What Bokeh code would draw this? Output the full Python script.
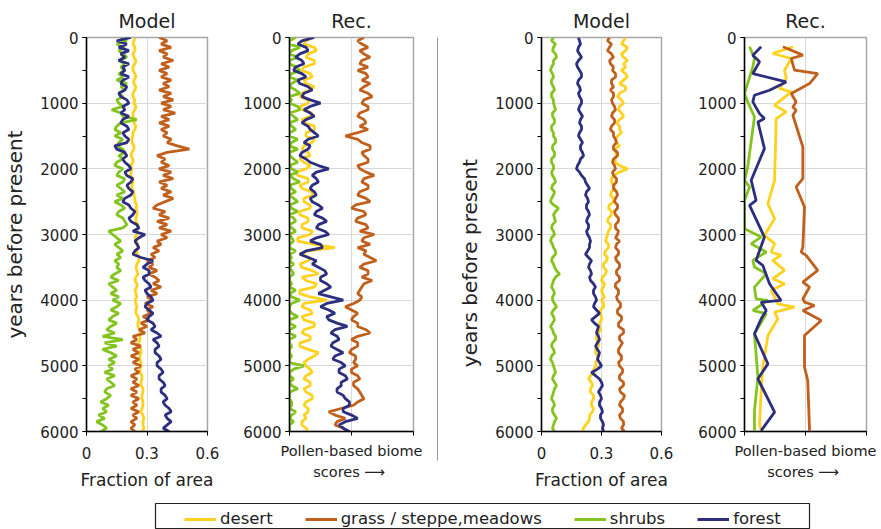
from bokeh.plotting import figure
from bokeh.models import (Range1d, FixedTicker, SingleIntervalTicker, LinearAxis,
                          Legend, LegendItem)
from bokeh.layouts import row, column
from bokeh.embed import file_html
from bokeh.resources import INLINE

FONT = "DejaVu Sans"

# ---------------- data ----------------
years50 = list(range(0, 6001, 50))   # 121 samples, 0 ... 6000 years BP

# Left pair, Model (fraction of area)
model1_desert = [0.24, 0.235, 0.23, 0.24, 0.24, 0.23, 0.235, 0.245, 0.24, 0.23,
                 0.23, 0.24, 0.245, 0.235, 0.235, 0.245, 0.24, 0.23, 0.23, 0.24,
                 0.235, 0.245, 0.24, 0.23, 0.23, 0.24, 0.235, 0.245, 0.24, 0.23,
                 0.23, 0.225, 0.225, 0.235, 0.235, 0.225, 0.22, 0.23, 0.23, 0.22,
                 0.225, 0.22, 0.22, 0.23, 0.23, 0.225, 0.225, 0.235, 0.235, 0.24,
                 0.24, 0.25, 0.245, 0.25, 0.25, 0.245, 0.245, 0.255, 0.255, 0.25,
                 0.25, 0.24, 0.245, 0.255, 0.255, 0.25, 0.25, 0.26, 0.26, 0.25,
                 0.245, 0.25, 0.255, 0.245, 0.24, 0.25, 0.25, 0.24, 0.245, 0.25,
                 0.24, 0.245, 0.25, 0.245, 0.245, 0.255, 0.26, 0.255, 0.255, 0.265,
                 0.27, 0.265, 0.265, 0.26, 0.26, 0.27, 0.27, 0.265, 0.265, 0.27,
                 0.27, 0.265, 0.265, 0.275, 0.275, 0.27, 0.27, 0.28, 0.28, 0.275,
                 0.275, 0.28, 0.28, 0.275, 0.27, 0.28, 0.285, 0.28, 0.28, 0.285,
                 0.275]
model1_grass = [0.36, 0.40, 0.37, 0.42, 0.36, 0.40, 0.38, 0.43, 0.37, 0.41,
                0.36, 0.40, 0.37, 0.42, 0.38, 0.41, 0.36, 0.42, 0.38, 0.43,
                0.37, 0.42, 0.38, 0.44, 0.37, 0.41, 0.36, 0.41, 0.37, 0.40,
                0.38, 0.42, 0.40, 0.45, 0.51, 0.40, 0.35, 0.39, 0.37, 0.41,
                0.36, 0.42, 0.38, 0.43, 0.36, 0.40, 0.37, 0.42, 0.38, 0.43,
                0.39, 0.35, 0.33, 0.39, 0.36, 0.41, 0.35, 0.40, 0.36, 0.42,
                0.37, 0.40, 0.35, 0.37, 0.33, 0.36, 0.32, 0.34, 0.30, 0.33,
                0.31, 0.35, 0.31, 0.34, 0.36, 0.33, 0.37, 0.32, 0.35, 0.30,
                0.33, 0.29, 0.33, 0.30, 0.32, 0.28, 0.31, 0.27, 0.30, 0.26,
                0.29, 0.23, 0.25, 0.22, 0.27, 0.23, 0.26, 0.22, 0.26, 0.23,
                0.27, 0.24, 0.26, 0.22, 0.25, 0.23, 0.26, 0.22, 0.25, 0.22,
                0.26, 0.23, 0.25, 0.22, 0.26, 0.23, 0.25, 0.22, 0.24, 0.22,
                0.24]
model1_shrubs = [0.17, 0.20, 0.15, 0.19, 0.16, 0.18, 0.20, 0.16, 0.19, 0.17,
                 0.19, 0.16, 0.18, 0.15, 0.20, 0.17, 0.19, 0.16, 0.18, 0.15,
                 0.16, 0.18, 0.125, 0.17, 0.18, 0.25, 0.17, 0.15, 0.14, 0.17,
                 0.14, 0.18, 0.16, 0.15, 0.18, 0.19, 0.16, 0.18, 0.15, 0.14,
                 0.18, 0.16, 0.15, 0.19, 0.18, 0.15, 0.17, 0.19, 0.15, 0.18,
                 0.14, 0.17, 0.19, 0.16, 0.15, 0.18, 0.19, 0.20, 0.18, 0.11,
                 0.13, 0.15, 0.17, 0.14, 0.16, 0.18, 0.15, 0.17, 0.14, 0.16,
                 0.15, 0.17, 0.14, 0.12, 0.16, 0.11, 0.13, 0.15, 0.12, 0.16,
                 0.13, 0.17, 0.15, 0.12, 0.16, 0.13, 0.11, 0.15, 0.12, 0.10,
                 0.14, 0.08, 0.18, 0.09, 0.15, 0.08, 0.12, 0.15, 0.11, 0.14,
                 0.11, 0.13, 0.09, 0.14, 0.10, 0.12, 0.14, 0.10, 0.09, 0.12,
                 0.10, 0.07, 0.11, 0.08, 0.10, 0.06, 0.09, 0.05, 0.08, 0.10,
                 0.07]
model1_forest = [0.22, 0.15, 0.20, 0.16, 0.21, 0.17, 0.19, 0.16, 0.21, 0.18,
                 0.19, 0.17, 0.21, 0.18, 0.17, 0.20, 0.19, 0.16, 0.17, 0.20,
                 0.21, 0.18, 0.19, 0.17, 0.21, 0.18, 0.17, 0.20, 0.21, 0.18,
                 0.19, 0.21, 0.20, 0.14, 0.15, 0.19, 0.20, 0.18, 0.19, 0.21,
                 0.22, 0.19, 0.20, 0.23, 0.22, 0.20, 0.21, 0.23, 0.22, 0.19,
                 0.18, 0.21, 0.22, 0.24, 0.23, 0.21, 0.22, 0.25, 0.26, 0.23,
                 0.29, 0.26, 0.24, 0.25, 0.26, 0.24, 0.23, 0.27, 0.33, 0.30,
                 0.28, 0.31, 0.31, 0.28, 0.29, 0.31, 0.32, 0.29, 0.30, 0.32,
                 0.33, 0.30, 0.29, 0.31, 0.33, 0.31, 0.30, 0.33, 0.34, 0.32,
                 0.35, 0.37, 0.33, 0.35, 0.36, 0.34, 0.34, 0.36, 0.37, 0.35,
                 0.35, 0.37, 0.38, 0.36, 0.36, 0.38, 0.39, 0.37, 0.37, 0.39,
                 0.40, 0.38, 0.39, 0.41, 0.42, 0.39, 0.40, 0.42, 0.40, 0.38,
                 0.41]

# Left pair, Rec. (pollen-based biome scores)
rec1_desert = [0.11, 0.08, 0.07, 0.12, 0.13, 0.09, 0.08, 0.12, 0.12, 0.07,
               0.06, 0.10, 0.11, 0.07, 0.08, 0.12, 0.10, 0.06, 0.05, 0.09,
               0.09, 0.05, 0.06, 0.11, 0.10, 0.06, 0.07, 0.12, 0.12, 0.08,
               0.08, 0.12, 0.11, 0.07, 0.06, 0.09, 0.10, 0.05, 0.07, 0.10,
               0.08, 0.03, 0.04, 0.09, 0.09, 0.05, 0.06, 0.11, 0.11, 0.07,
               0.07, 0.10, 0.10, 0.05, 0.05, 0.09, 0.09, 0.06, 0.06, 0.11,
               0.10, 0.04, 0.04, 0.12, 0.22, 0.09, 0.05, 0.10, 0.09, 0.05,
               0.06, 0.11, 0.14, 0.06, 0.08, 0.13, 0.12, 0.05, 0.05, 0.10,
               0.18, 0.07, 0.06, 0.10, 0.11, 0.06, 0.07, 0.12, 0.12, 0.07,
               0.06, 0.10, 0.10, 0.05, 0.05, 0.09, 0.14, 0.12, 0.09, 0.07,
               0.08, 0.10, 0.11, 0.08, 0.07, 0.10, 0.10, 0.07, 0.08, 0.11,
               0.11, 0.08, 0.07, 0.09, 0.09, 0.07, 0.08, 0.06, 0.06, 0.08,
               0.09]
rec1_grass = [0.36, 0.33, 0.35, 0.38, 0.34, 0.36, 0.39, 0.35, 0.34, 0.38,
              0.33, 0.37, 0.38, 0.35, 0.39, 0.36, 0.34, 0.38, 0.40, 0.36,
              0.35, 0.38, 0.38, 0.34, 0.33, 0.36, 0.37, 0.34, 0.38, 0.33,
              0.27, 0.33, 0.35, 0.39, 0.39, 0.35, 0.36, 0.38, 0.38, 0.33,
              0.34, 0.37, 0.41, 0.36, 0.35, 0.38, 0.38, 0.34, 0.33, 0.37,
              0.39, 0.32, 0.30, 0.36, 0.37, 0.33, 0.32, 0.37, 0.38, 0.34,
              0.41, 0.36, 0.35, 0.39, 0.33, 0.37, 0.36, 0.39, 0.42, 0.36,
              0.34, 0.38, 0.38, 0.35, 0.40, 0.36, 0.35, 0.34, 0.33, 0.35,
              0.34, 0.31, 0.27, 0.30, 0.33, 0.31, 0.30, 0.33, 0.33, 0.37,
              0.39, 0.33, 0.30, 0.33, 0.33, 0.30, 0.29, 0.32, 0.32, 0.31,
              0.33, 0.30, 0.30, 0.33, 0.34, 0.31, 0.31, 0.33, 0.34, 0.35,
              0.36, 0.33, 0.31, 0.25, 0.19, 0.22, 0.27, 0.23, 0.22, 0.26,
              0.28]
rec1_shrubs = [0.03, 0.00, 0.00, 0.05, 0.01, 0.00, 0.04, 0.00, 0.00, 0.03,
               0.05, 0.01, 0.00, 0.04, 0.01, 0.00, 0.03, 0.05, 0.00, 0.01,
               0.00, 0.04, 0.05, 0.00, 0.02, 0.04, 0.00, 0.01, 0.03, 0.00,
               0.00, 0.04, 0.01, 0.00, 0.04, 0.00, 0.00, 0.02, 0.04, 0.00,
               0.01, 0.04, 0.00, 0.02, 0.05, 0.00, 0.01, 0.03, 0.00, 0.02,
               0.04, 0.00, 0.01, 0.04, 0.00, 0.02, 0.03, 0.00, 0.01, 0.03,
               0.00, 0.01, 0.02, 0.00, 0.00, 0.03, 0.00, 0.01, 0.00, 0.02,
               0.00, 0.01, 0.02, 0.00, 0.00, 0.01, 0.00, 0.03, 0.00, 0.01,
               0.05, 0.01, 0.00, 0.00, 0.01, 0.04, 0.00, 0.00, 0.03, 0.00,
               0.00, 0.03, 0.00, 0.00, 0.01, 0.00, 0.00, 0.01, 0.00, 0.00,
               0.07, 0.02, 0.00, 0.00, 0.02, 0.00, 0.01, 0.04, 0.00, 0.00,
               0.00, 0.01, 0.01, 0.00, 0.03, 0.01, 0.00, 0.02, 0.00, 0.00,
               0.00]
rec1_forest = [0.12, 0.06, 0.04, 0.08, 0.09, 0.05, 0.03, 0.06, 0.07, 0.03,
               0.02, 0.06, 0.08, 0.04, 0.05, 0.09, 0.11, 0.07, 0.06, 0.10,
               0.15, 0.10, 0.07, 0.10, 0.12, 0.08, 0.06, 0.09, 0.10, 0.12,
               0.14, 0.09, 0.07, 0.10, 0.09, 0.06, 0.05, 0.08, 0.10, 0.14,
               0.19, 0.13, 0.11, 0.13, 0.14, 0.11, 0.10, 0.12, 0.13, 0.10,
               0.11, 0.14, 0.16, 0.13, 0.12, 0.16, 0.18, 0.14, 0.13, 0.17,
               0.19, 0.13, 0.10, 0.15, 0.16, 0.08, 0.05, 0.09, 0.13, 0.11,
               0.14, 0.17, 0.18, 0.15, 0.15, 0.18, 0.20, 0.17, 0.14, 0.20,
               0.26, 0.18, 0.15, 0.19, 0.22, 0.18, 0.19, 0.23, 0.28, 0.22,
               0.20, 0.23, 0.24, 0.21, 0.20, 0.23, 0.26, 0.22, 0.21, 0.25,
               0.27, 0.24, 0.24, 0.27, 0.28, 0.25, 0.25, 0.23, 0.23, 0.26,
               0.27, 0.29, 0.29, 0.26, 0.26, 0.30, 0.33, 0.27, 0.24, 0.26,
               0.29]

# Right pair, Model (fraction of area)
model2_desert = [0.42, 0.41, 0.40, 0.43, 0.42, 0.40, 0.41, 0.43, 0.41, 0.42,
                 0.40, 0.42, 0.43, 0.41, 0.39, 0.42, 0.42, 0.39, 0.38, 0.40,
                 0.41, 0.39, 0.385, 0.40, 0.41, 0.39, 0.375, 0.39, 0.39, 0.40,
                 0.38, 0.37, 0.375, 0.39, 0.365, 0.37, 0.38, 0.365, 0.37, 0.39,
                 0.43, 0.39, 0.36, 0.35, 0.35, 0.36, 0.365, 0.35, 0.345, 0.36,
                 0.36, 0.34, 0.335, 0.35, 0.35, 0.335, 0.33, 0.345, 0.345, 0.335,
                 0.33, 0.325, 0.32, 0.335, 0.335, 0.32, 0.315, 0.33, 0.325, 0.31,
                 0.31, 0.325, 0.32, 0.305, 0.30, 0.315, 0.31, 0.30, 0.305, 0.315,
                 0.30, 0.31, 0.31, 0.295, 0.295, 0.30, 0.30, 0.29, 0.29, 0.295,
                 0.285, 0.275, 0.275, 0.285, 0.285, 0.27, 0.27, 0.28, 0.28, 0.27,
                 0.275, 0.26, 0.265, 0.245, 0.235, 0.25, 0.255, 0.245, 0.245, 0.26,
                 0.26, 0.25, 0.25, 0.26, 0.255, 0.24, 0.24, 0.235, 0.22, 0.21,
                 0.205]
model2_grass = [0.34, 0.33, 0.35, 0.34, 0.33, 0.35, 0.36, 0.34, 0.345, 0.36,
                0.355, 0.37, 0.37, 0.35, 0.35, 0.36, 0.345, 0.36, 0.36, 0.35,
                0.355, 0.365, 0.37, 0.355, 0.35, 0.365, 0.365, 0.35, 0.345, 0.36,
                0.36, 0.37, 0.375, 0.36, 0.36, 0.38, 0.38, 0.36, 0.355, 0.365,
                0.37, 0.355, 0.36, 0.375, 0.375, 0.36, 0.36, 0.375, 0.38, 0.37,
                0.365, 0.38, 0.38, 0.365, 0.37, 0.385, 0.385, 0.37, 0.37, 0.385,
                0.38, 0.37, 0.39, 0.375, 0.37, 0.385, 0.385, 0.37, 0.375, 0.39,
                0.39, 0.375, 0.375, 0.39, 0.39, 0.37, 0.37, 0.385, 0.385, 0.375,
                0.38, 0.395, 0.395, 0.38, 0.38, 0.40, 0.40, 0.385, 0.385, 0.41,
                0.41, 0.39, 0.39, 0.405, 0.395, 0.385, 0.385, 0.40, 0.40, 0.385,
                0.39, 0.405, 0.405, 0.39, 0.39, 0.41, 0.41, 0.39, 0.395, 0.415,
                0.41, 0.395, 0.39, 0.405, 0.405, 0.39, 0.395, 0.41, 0.41, 0.40,
                0.415]
model2_shrubs = [0.06, 0.05, 0.07, 0.06, 0.055, 0.07, 0.075, 0.06, 0.06, 0.05,
                 0.045, 0.055, 0.06, 0.05, 0.05, 0.06, 0.065, 0.05, 0.05, 0.06,
                 0.06, 0.065, 0.07, 0.055, 0.055, 0.065, 0.065, 0.05, 0.05, 0.06,
                 0.06, 0.07, 0.07, 0.055, 0.055, 0.065, 0.065, 0.05, 0.05, 0.06,
                 0.06, 0.05, 0.055, 0.065, 0.07, 0.055, 0.05, 0.065, 0.06, 0.05,
                 0.045, 0.06, 0.085, 0.07, 0.06, 0.065, 0.07, 0.055, 0.05, 0.06,
                 0.065, 0.05, 0.045, 0.055, 0.06, 0.07, 0.07, 0.055, 0.05, 0.06,
                 0.065, 0.075, 0.09, 0.07, 0.06, 0.055, 0.05, 0.06, 0.065, 0.055,
                 0.055, 0.065, 0.075, 0.06, 0.05, 0.06, 0.065, 0.055, 0.045, 0.055,
                 0.06, 0.07, 0.07, 0.055, 0.05, 0.06, 0.065, 0.05, 0.045, 0.055,
                 0.06, 0.065, 0.07, 0.06, 0.055, 0.065, 0.075, 0.065, 0.06, 0.055,
                 0.05, 0.06, 0.065, 0.055, 0.055, 0.065, 0.075, 0.065, 0.06, 0.055,
                 0.065]
model2_forest = [0.185, 0.19, 0.195, 0.185, 0.18, 0.19, 0.20, 0.185, 0.175, 0.18,
                 0.19, 0.20, 0.20, 0.185, 0.18, 0.19, 0.195, 0.185, 0.19, 0.20,
                 0.20, 0.19, 0.185, 0.195, 0.205, 0.195, 0.19, 0.20, 0.20, 0.19,
                 0.185, 0.195, 0.205, 0.195, 0.195, 0.205, 0.21, 0.195, 0.19, 0.18,
                 0.175, 0.19, 0.20, 0.215, 0.22, 0.23, 0.24, 0.225, 0.22, 0.23,
                 0.235, 0.225, 0.225, 0.235, 0.24, 0.23, 0.225, 0.235, 0.235, 0.225,
                 0.23, 0.24, 0.245, 0.24, 0.24, 0.23, 0.22, 0.235, 0.25, 0.24,
                 0.235, 0.245, 0.25, 0.24, 0.245, 0.26, 0.27, 0.26, 0.26, 0.27,
                 0.275, 0.265, 0.26, 0.275, 0.29, 0.27, 0.25, 0.265, 0.285, 0.28,
                 0.275, 0.285, 0.29, 0.28, 0.27, 0.28, 0.29, 0.285, 0.28, 0.29,
                 0.30, 0.28, 0.25, 0.27, 0.29, 0.30, 0.305, 0.295, 0.285, 0.295,
                 0.30, 0.29, 0.29, 0.30, 0.305, 0.295, 0.295, 0.305, 0.31, 0.305,
                 0.31]

# Right pair, Rec. (sparse samples)
rec2_desert_yr = [142, 244, 320, 498, 625, 777, 828, 1031, 1133, 1235, 2175, 2530, 2759, 3013, 3140, 3267, 3318,
                  3394, 3547, 3674, 3750, 3852, 4055, 4106, 4182, 4284, 4538, 5020, 5376, 5884, 5986]
rec2_desert = [0.238, 0.139, 0.23, 0.197, 0.205, 0.172, 0.23, 0.148, 0.205, 0.156, 0.148, 0.115, 0.148, 0.098,
               0.148, 0.131, 0.18, 0.139, 0.197, 0.139, 0.197, 0.131, 0.164, 0.246, 0.148, 0.164, 0.115, 0.09,
               0.082, 0.074, 0.082]
rec2_grass_yr = [142, 269, 320, 498, 549, 701, 854, 981, 1057, 1108, 1184, 1667, 2149, 2276, 2581, 3191, 3267,
                 3318, 3547, 3725, 3801, 3979, 4030, 4081, 4157, 4309, 4538, 5020, 5224, 5986]
rec2_grass = [0.189, 0.287, 0.23, 0.246, 0.36, 0.32, 0.23, 0.254, 0.238, 0.254, 0.238, 0.287, 0.287, 0.254,
              0.295, 0.287, 0.279, 0.303, 0.36, 0.287, 0.32, 0.287, 0.295, 0.344, 0.287, 0.377, 0.295, 0.295,
              0.311, 0.32]
rec2_shrubs_yr = [142, 320, 447, 854, 981, 1210, 1971, 2175, 2276, 2480, 2911, 3039, 3140, 3267, 3394, 3496,
                  3598, 3801, 3979, 4004, 4157, 4208, 4512, 5173, 5681, 5986]
rec2_shrubs = [0.025, 0.049, 0.041, 0.0, 0.016, 0.049, 0.016, 0.0, 0.025, 0.0, 0.0, 0.082, 0.033, 0.107, 0.041,
               0.049, 0.107, 0.049, 0.057, 0.115, 0.041, 0.107, 0.049, 0.066, 0.049, 0.049]
rec2_forest_yr = [142, 269, 371, 549, 676, 803, 879, 981, 1159, 1235, 1286, 1692, 2175, 2480, 2556, 3039, 3394,
                  3470, 3750, 4004, 4030, 4157, 4284, 4512, 4970, 5198, 5706, 5986]
rec2_forest = [0.082, 0.041, 0.074, 0.041, 0.205, 0.123, 0.049, 0.041, 0.074, 0.098, 0.066, 0.098, 0.033, 0.057,
               0.025, 0.098, 0.057, 0.09, 0.123, 0.18, 0.082, 0.107, 0.082, 0.049, 0.115, 0.066, 0.148, 0.082]

series_names = ["desert", "grass / steppe,meadows", "shrubs", "forest"]
colors = ["#FFD21F", "#C0601C", "#84C41E", "#2D2E7F"]
x_ticks = [0, 0.3, 0.6]
x_tick_labels = ["0", "0.3", "0.6"]
y_label = "years before present"

FRAME_H = 394
TOP = 37
BOTTOM = 64
TXT = "#222222"


def make_panel(title, fw, bl, br, ylabel, model):
    p = figure(frame_width=fw, frame_height=FRAME_H, min_border_left=bl, min_border_right=br,
               min_border_top=TOP, min_border_bottom=BOTTOM,
               x_range=Range1d(0, 0.6), y_range=Range1d(6000, 0),
               output_backend="svg", toolbar_location=None, title=title)
    p.title.align = "center"
    p.title.text_font = FONT
    p.title.text_font_size = "19px"
    p.title.text_font_style = "normal"
    p.title.text_color = TXT
    p.title.standoff = 11
    p.outline_line_color = "#a6a6a6"
    p.outline_line_width = 1.5

    ya = p.yaxis[0]
    ya.ticker = SingleIntervalTicker(interval=1000, num_minor_ticks=2)
    ya.axis_line_color = "black"
    ya.axis_line_width = 1.5
    ya.major_tick_out = 4
    ya.major_tick_in = 0
    ya.minor_tick_out = 4
    ya.minor_tick_in = 0
    ya.major_label_standoff = 4
    ya.major_label_text_font = FONT
    ya.major_label_text_font_size = "15px"
    ya.major_label_text_color = TXT
    if ylabel:
        ya.axis_label = ylabel
        ya.axis_label_text_font = FONT
        ya.axis_label_text_font_size = "20px"
        ya.axis_label_text_font_style = "normal"
        ya.axis_label_text_color = TXT
        ya.axis_label_standoff = 10

    xa = p.xaxis[0]
    xa.ticker = FixedTicker(ticks=x_ticks)
    xa.axis_line_color = "black"
    xa.axis_line_width = 1.5
    xa.major_tick_out = 4
    xa.major_tick_in = 0
    xa.minor_tick_line_color = None
    xa.axis_label_text_font = FONT
    xa.axis_label_text_font_style = "normal"
    xa.axis_label_text_color = TXT
    if model:
        xa.major_label_overrides = {t: s for t, s in zip(x_ticks, x_tick_labels)}
        xa.major_label_standoff = 11
        xa.major_label_text_font = FONT
        xa.major_label_text_font_size = "15px"
        xa.major_label_text_color = TXT
        xa.axis_label = "Fraction of area"
        xa.axis_label_text_font_size = "17px"
        xa.axis_label_standoff = 8
    else:
        xa.major_label_text_font_size = "1px"
        xa.major_label_text_color = None
        xa.major_label_standoff = 0
        xa.axis_label = "Pollen-based biome"
        xa.axis_label_text_font_size = "14.5px"
        xa.axis_label_standoff = 7
        xa2 = LinearAxis(ticker=FixedTicker(ticks=[]), axis_line_color=None,
                         major_tick_line_color=None, minor_tick_line_color=None,
                         major_label_text_font_size="1px", major_label_text_color=None,
                         major_tick_out=0,
                         axis_label="scores  \u27f6", axis_label_standoff=2,
                         axis_label_text_font=FONT, axis_label_text_font_size="14.5px",
                         axis_label_text_font_style="normal", axis_label_text_color=TXT)
        p.add_layout(xa2, "below")

    p.xgrid.ticker = FixedTicker(ticks=[0.3])
    p.xgrid.grid_line_color = "#d9d9d9"
    p.ygrid.ticker = SingleIntervalTicker(interval=1000)
    p.ygrid.grid_line_color = "#d9d9d9"
    return p


p1 = make_panel("Model", 121, 85, 32, y_label, True)
p2 = make_panel("Rec.", 124, 50, 24, None, False)
# the right-hand axis title sits lower in the original; trailing no-break spaces shift it down
p3 = make_panel("Model", 120, 103, 33, y_label + "\u00a0" * 9, True)
p4 = make_panel("Rec.", 122, 50, 15, None, False)

LW = 2.8
for vals, c in zip([model1_desert, model1_grass, model1_shrubs, model1_forest], colors):
    p1.line(x=vals, y=years50, line_color=c, line_width=LW)
for vals, c in zip([rec1_desert, rec1_grass, rec1_shrubs, rec1_forest], colors):
    p2.line(x=vals, y=years50, line_color=c, line_width=LW)
for vals, c in zip([model2_desert, model2_grass, model2_shrubs, model2_forest], colors):
    p3.line(x=vals, y=years50, line_color=c, line_width=LW)
for vals, yrs, c in zip([rec2_desert, rec2_grass, rec2_shrubs, rec2_forest],
                        [rec2_desert_yr, rec2_grass_yr, rec2_shrubs_yr, rec2_forest_yr], colors):
    p4.line(x=vals, y=yrs, line_color=c, line_width=LW)

# thin vertical separator between the two pairs of panels
sep = figure(frame_width=1, frame_height=423, min_border_left=0, min_border_right=0,
             min_border_top=15, min_border_bottom=57, x_axis_type=None, y_axis_type=None,
             background_fill_color="#333333", outline_line_color=None,
             output_backend="svg", toolbar_location=None)

# legend strip (its series are drawn out of view; only the legend shows)
leg = figure(frame_width=654, frame_height=26, min_border_left=155, min_border_right=72,
             min_border_top=8, min_border_bottom=0, x_axis_type=None, y_axis_type=None,
             x_range=Range1d(0, 1), y_range=Range1d(-2, -1),
             outline_line_color=TXT, outline_line_width=1.2,
             output_backend="svg", toolbar_location=None)
items = []
for name, vals, c in zip(series_names, [model1_desert, model1_grass, model1_shrubs, model1_forest], colors):
    r = leg.line(x=vals, y=years50, line_color=c, line_width=3)
    items.append(LegendItem(label=name, renderers=[r]))
legend = Legend(items=items, orientation="horizontal", location=(29, 1),
                glyph_width=32, glyph_height=16, label_height=16, label_standoff=4,
                spacing=32, padding=0, margin=0, border_line_color=None,
                background_fill_alpha=0, label_text_font=FONT, label_text_font_size="16.5px",
                label_text_color=TXT)
leg.add_layout(legend, "center")

layout = column(row(p1, p2, sep, p3, p4), leg)

open("out.html", "w").write(file_html(layout, INLINE))
